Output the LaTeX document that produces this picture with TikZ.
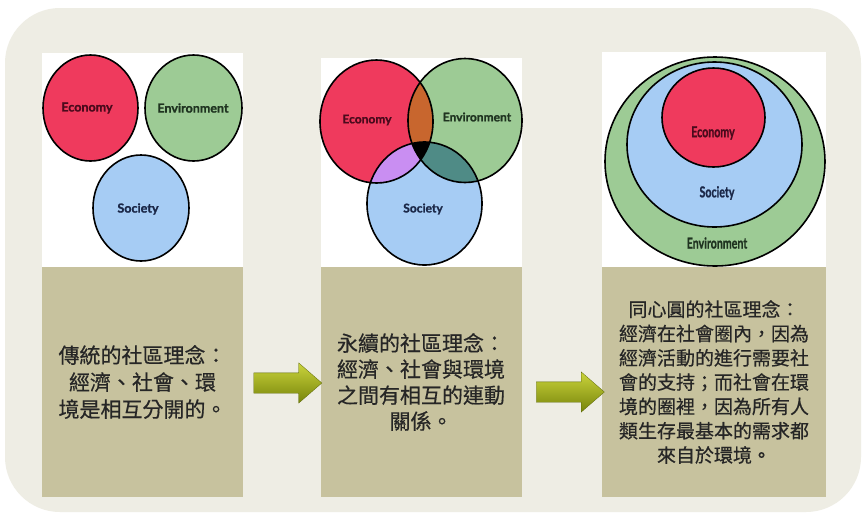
\documentclass[tikz,border=0pt]{standalone}
\usepackage{fontspec}
\newfontfamily\cjk[FakeBold=0.5]{Noto Sans CJK TC}
\newfontfamily\lblfont[BoldFeatures={FakeBold=1.2}]{Lato}
\usetikzlibrary{shapes.geometric, shapes.arrows, positioning}

\definecolor{bgCream}{HTML}{EEEDE4}
\definecolor{boxTan}{HTML}{C7C29E}
\definecolor{ecoRed}{HTML}{EF3A5D}
\definecolor{envGreen}{HTML}{9DCB95}
\definecolor{socBlue}{HTML}{A6CCF4}
\definecolor{ecoEnv}{HTML}{C8662E}
\definecolor{ecoSoc}{HTML}{C98EF2}
\definecolor{envSoc}{HTML}{4F8B86}
\definecolor{ecoText}{HTML}{4A0A1C}
\definecolor{envText}{HTML}{1F3320}
\definecolor{socText}{HTML}{1B2848}
\definecolor{arrTop}{HTML}{CBD43C}
\definecolor{arrMid}{HTML}{A8B61E}
\definecolor{arrBot}{HTML}{76840A}

\tikzstyle{imgbox} = [rectangle, fill=white, minimum width=201, minimum height=214, inner sep=0pt]
\tikzstyle{textbox} = [rectangle, fill=boxTan, minimum width=201, minimum height=230, inner sep=0pt, align=center, text=black!85]
\tikzstyle{ring} = [draw=black, line width=1.6pt]
\tikzstyle{bigarrow} = [single arrow, minimum height=68, inner xsep=0pt, inner ysep=10pt, single arrow head extend=10, single arrow tip angle=82, top color=arrTop, middle color=arrMid, bottom color=arrBot, draw=arrBot!80!black, line width=0.3pt]

% Venn paths of the middle panel
\newcommand\vennEco{(376.5,121.5) ellipse [x radius=56.5, y radius=61.5]}
\newcommand\vennEnv{(465,120.5) ellipse [x radius=57, y radius=62]}
\newcommand\vennSoc{(424.5,203.5) ellipse [x radius=57.5, y radius=61.5]}

\tikzset{
	lbl/.style = {font=\lblfont\bfseries\fontsize{12.5}{14}\selectfont, inner sep=0pt},
	ecoLbl/.style = {lbl, text=ecoText},
	envLbl/.style = {lbl, text=envText},
	socLbl/.style = {lbl, text=socText},
}

\begin{document}
\begin{tikzpicture}[x=1pt, y=-1pt]
\useasboundingbox (0,0) rectangle (865,515);
\fill[white] (0,0) rectangle (865,515);
\fill[bgCream, rounded corners=55] (5,8) rectangle (861,512);

% Picture panels
\node (picA) [imgbox] at (142.5,160) {};
\node (picB) [imgbox, minimum height=209] at (421,162.5) {};
\node (picC) [imgbox, minimum width=224, minimum height=215] at (714,159.5) {};

% Separate circles
\draw [ring, fill=ecoRed] (90.5,108) ellipse [x radius=47.5, y radius=53];
\draw [ring, fill=envGreen] (193.5,108) ellipse [x radius=48.5, y radius=53];
\draw [ring, fill=socBlue] (141,208) ellipse [x radius=48, y radius=53];
\node (ecoA) [ecoLbl] at (87,108) {Economy};
\node (envA) [envLbl] at (193,108) {Environment};
\node (socA) [socLbl] at (138,209) {Society};

% Overlapping circles
\fill [ecoRed] \vennEco;
\fill [envGreen] \vennEnv;
\fill [socBlue] \vennSoc;
\begin{scope}
	\clip \vennEco;
	\fill [ecoEnv] \vennEnv;
	\fill [ecoSoc] \vennSoc;
\end{scope}
\begin{scope}
	\clip \vennEnv;
	\fill [envSoc] \vennSoc;
	\clip \vennSoc;
	\fill [black] \vennEco;
\end{scope}
\draw [ring] \vennEco;
\draw [ring] \vennEnv;
\draw [ring] \vennSoc;
\node (ecoB) [ecoLbl, font=\lblfont\bfseries\fontsize{12}{14}\selectfont] at (367,120) {Economy};
\node (envB) [envLbl, font=\lblfont\bfseries\fontsize{12}{14}\selectfont] at (477,117) {Environment};
\node (socB) [socLbl, font=\lblfont\bfseries\fontsize{12}{14}\selectfont] at (423,209) {Society};

% Nested circles
\draw [ring, fill=envGreen] (715,161.5) ellipse [x radius=110, y radius=104.5];
\draw [ring, fill=socBlue] (714.5,144.5) ellipse [x radius=87.5, y radius=82.5];
\draw [ring, fill=ecoRed] (713.5,117.5) ellipse [x radius=51.5, y radius=49.5];
\node (ecoC) [ecoLbl] at (713,133) {\scalebox{0.85}[1.2]{Economy}};
\node (socC) [socLbl] at (717,193) {\scalebox{0.85}[1.2]{Society}};
\node (envC) [envLbl] at (717,243) {\scalebox{0.85}[1.2]{Environment}};

% Text panels
\node (txtA) [textbox, font=\cjk\fontsize{21}{27}\selectfont] at (142.5,382) {傳統的社區理念：\\經濟、社會、環\\境是相互分開的。};
\node (txtB) [textbox, font=\cjk\fontsize{21}{26}\selectfont] at (421,382) {永續的社區理念：\\經濟、社會與環境\\之間有相互的連動\\關係。};
\node (txtC) [textbox, minimum width=224, font=\cjk\fontsize{19}{24.3}\selectfont] at (714,382) {同心圓的社區理念：\\經濟在社會圈內，因為\\經濟活動的進行需要社\\會的支持；而社會在環\\境的圈裡，因為所有人\\類生存最基本的需求都\\來自於環境。};

% Arrows between panels
\node (arrAB) [bigarrow] at (282,383) {};
\node (arrBC) [bigarrow] at (564.5,392) {};

\end{tikzpicture}
\end{document}
